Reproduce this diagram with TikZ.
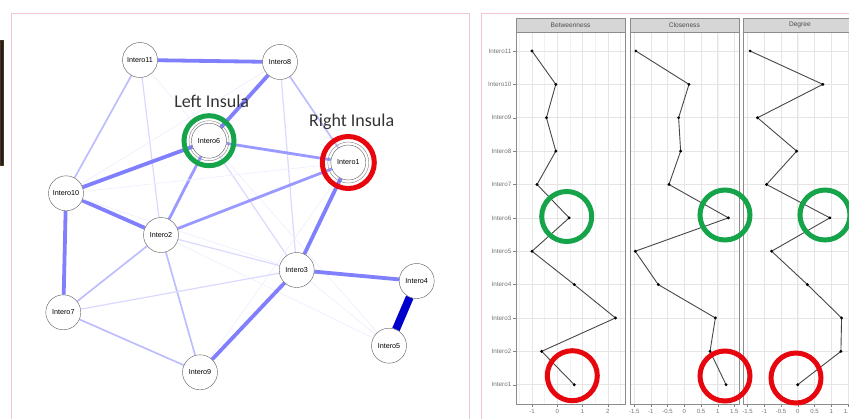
\documentclass[tikz,border=0pt]{standalone}
\usepackage{fontspec}
\setmainfont{Liberation Sans}
\newfontfamily\insulafont{Carlito}
\usetikzlibrary{arrows}

\definecolor{framepink}{HTML}{F2C6CF}
\definecolor{ringgreen}{HTML}{16A44A}
\definecolor{ringred}{HTML}{E8060E}
\definecolor{stripgray}{HTML}{D6D6D6}

\pgfdeclarelayer{edges}
\pgfsetlayers{edges,main}

\begin{document}
\begin{tikzpicture}[x=1pt,y=-1pt,semithick,
    intero/.style={circle,draw=black!65,thin,fill=white,minimum size=35pt,
      inner sep=0pt,font=\fontsize{7.2}{8}\selectfont},
    faint/.style={draw=blue!6,line width=0.8pt},
    weak/.style={draw=blue!15,line width=1.2pt},
    mid/.style={draw=blue!26,line width=1.7pt},
    strong/.style={draw=blue!40,line width=2.8pt},
    vstrong/.style={draw=blue!50,line width=3.8pt},
    top/.style={draw=blue!80!black,line width=8pt},
    greenring/.style={draw=ringgreen,line width=5pt},
    redring/.style={draw=ringred,line width=5pt},
    insula/.style={font=\insulafont\fontsize{18}{20}\selectfont,text=black!80},
    ylab/.style={anchor=east,font=\fontsize{6.3}{7}\selectfont,text=black!55,inner sep=1pt},
    xlab/.style={font=\fontsize{6}{7}\selectfont,text=black!55,inner sep=0pt},
    strip/.style={draw=black!45,fill=stripgray,thin},
    plotline/.style={draw=black!72,line width=0.9pt},
    grid major/.style={draw=black!10,line width=0.5pt},
    grid minor/.style={draw=black!5,line width=0.4pt}]
  \useasboundingbox (0,0) rectangle (849,418);

  \fill[black!88,draw=black!60!brown] (0,40) rectangle (3.5,165);
  \draw[framepink,thin] (11,430) -- (11,13) -- (469,13) -- (469,430);
  \draw[framepink,thin] (481,430) -- (481,13) -- (860,13);

  \node[intero] (n11) at (140,60) {Intero11};
  \node[intero] (n8) at (280,62) {Intero8};
  \node[intero] (n6) at (209,140.7) {Intero6};
  \node[intero] (n1) at (348.3,162.5) {Intero1};
  \node[intero] (n10) at (66,193.3) {Intero10};
  \node[intero] (n2) at (161,235) {Intero2};
  \node[intero] (n3) at (296.7,270) {Intero3};
  \node[intero] (n4) at (416.7,281) {Intero4};
  \node[intero] (n7) at (63.3,312.3) {Intero7};
  \node[intero] (n5) at (389,345.7) {Intero5};
  \node[intero] (n9) at (200,372.3) {Intero9};

  \begin{pgfonlayer}{edges}
  \path (n11) edge[vstrong] (n8)
    edge[mid] (n10)
    edge[weak] (n2)
    edge[faint] (n6)
  (n8) edge[vstrong] (n6)
    edge[mid] (n1)
    edge[weak] (n3)
    edge[faint] (n10)
  (n6) edge[strong] (n1)
    edge[vstrong] (n10)
    edge[strong] (n2)
    edge[weak] (n3)
    edge[faint] (n5)
  (n10) edge[vstrong] (n2)
    edge[vstrong] (n7)
    edge[faint] (n1)
    edge[faint] (n3)
  (n1) edge[strong] (n2)
    edge[vstrong] (n3)
    edge[faint] (n9)
  (n2) edge[weak] (n3)
    edge[mid] (n7)
    edge[mid] (n9)
    edge[faint] (n5)
  (n7) edge[weak] (n3)
    edge[mid] (n9)
  (n3) edge[vstrong] (n9)
    edge[vstrong] (n4)
    edge[faint] (n5)
  (n4) edge[top] (n5);
  \end{pgfonlayer}

  \draw[black!50,thin] (n6) circle (20);
  \draw[black!50,thin] (n1) circle (20.5);
  \draw[greenring] (n6) circle (25);
  \draw[redring] (n1) circle (26);
  \node[insula] (left) at (211.7,101.7) {Left Insula};
  \node[insula] (right) at (351.7,121.7) {Right Insula};

  \foreach \pname/\xl/\xr/\xz/\sc/\tks/\grd in {
      Betweenness/515.7/625/557.3/25.3/{-1,0,1,2}/{-1.5,-1,...,2.5},
      Closeness/629.7/738.7/684.3/33.4/{-1.5,-1,-0.5,0,0.5,1,1.5}/{-1.5,-1,...,1.5},
      Degree/743.3/856/797.7/33.5/{-1.5,-1,-0.5,0,0.5,1,1.5}/{-1.5,-1,...,1.5}} {
    \foreach \g in \grd
      \draw[grid minor] ({\xz+\sc*\g},32) -- ({\xz+\sc*\g},404);
    \foreach \t in \tks {
      \draw[grid major] ({\xz+\sc*\t},32) -- ({\xz+\sc*\t},404);
      \draw[black!50,thin] ({\xz+\sc*\t},404) -- ({\xz+\sc*\t},406.5);
      \node[xlab] at ({\xz+\sc*\t},411.5) {\t};
    }
    \foreach \i in {1,...,11}
      \draw[grid major] (\xl,{384.7-33.37*(\i-1)}) -- (\xr,{384.7-33.37*(\i-1)});
    \draw[black!45,thin] (\xl,32) rectangle (\xr,404);
    \node[strip,minimum width={\xr-\xl},minimum height=14pt,inner sep=0pt,
      anchor=north west,font=\fontsize{6.6}{7}\selectfont,text=black!70]
      at (\xl,18) {\pname};
  }

  \foreach \i in {1,...,11} {
    \node[ylab] (lab\i) at (512.5,{384.7-33.37*(\i-1)}) {Intero\i};
    \draw[black!50,thin] (513,{384.7-33.37*(\i-1)}) -- (515.7,{384.7-33.37*(\i-1)});
  }

  \foreach \v [count=\i] in {0.67,-0.62,2.3,0.67,-1.0,0.47,-0.8,-0.06,-0.43,-0.06,-1.0}
    \coordinate (b\i) at ({557.3+25.3*\v},{384.7-33.37*(\i-1)});
  \foreach \v [count=\i] in {1.25,0.77,0.93,-0.78,-1.47,1.32,-0.46,-0.11,-0.17,0.14,-1.45}
    \coordinate (c\i) at ({684.3+33.4*\v},{384.7-33.37*(\i-1)});
  \foreach \v [count=\i] in {0.0,1.29,1.31,0.29,-0.78,0.96,-0.93,-0.03,-1.2,0.75,-1.42}
    \coordinate (d\i) at ({797.7+33.5*\v},{384.7-33.37*(\i-1)});
  \foreach \s in {b,c,d} {
    \draw[plotline] (\s1) \foreach \i in {2,...,11} {-- (\s\i)};
    \foreach \i in {1,...,11}
      \fill (\s\i) circle (1.6);
  }

  \draw[greenring] (566.7,216.5) circle (25);
  \draw[greenring] (725,215) circle (25);
  \draw[greenring] (825,215) circle (25);
  \draw[redring] (572.3,375.7) circle (25);
  \draw[redring] (725,376) circle (25);
  \draw[redring] (796,378) circle (25);
\end{tikzpicture}
\end{document}
